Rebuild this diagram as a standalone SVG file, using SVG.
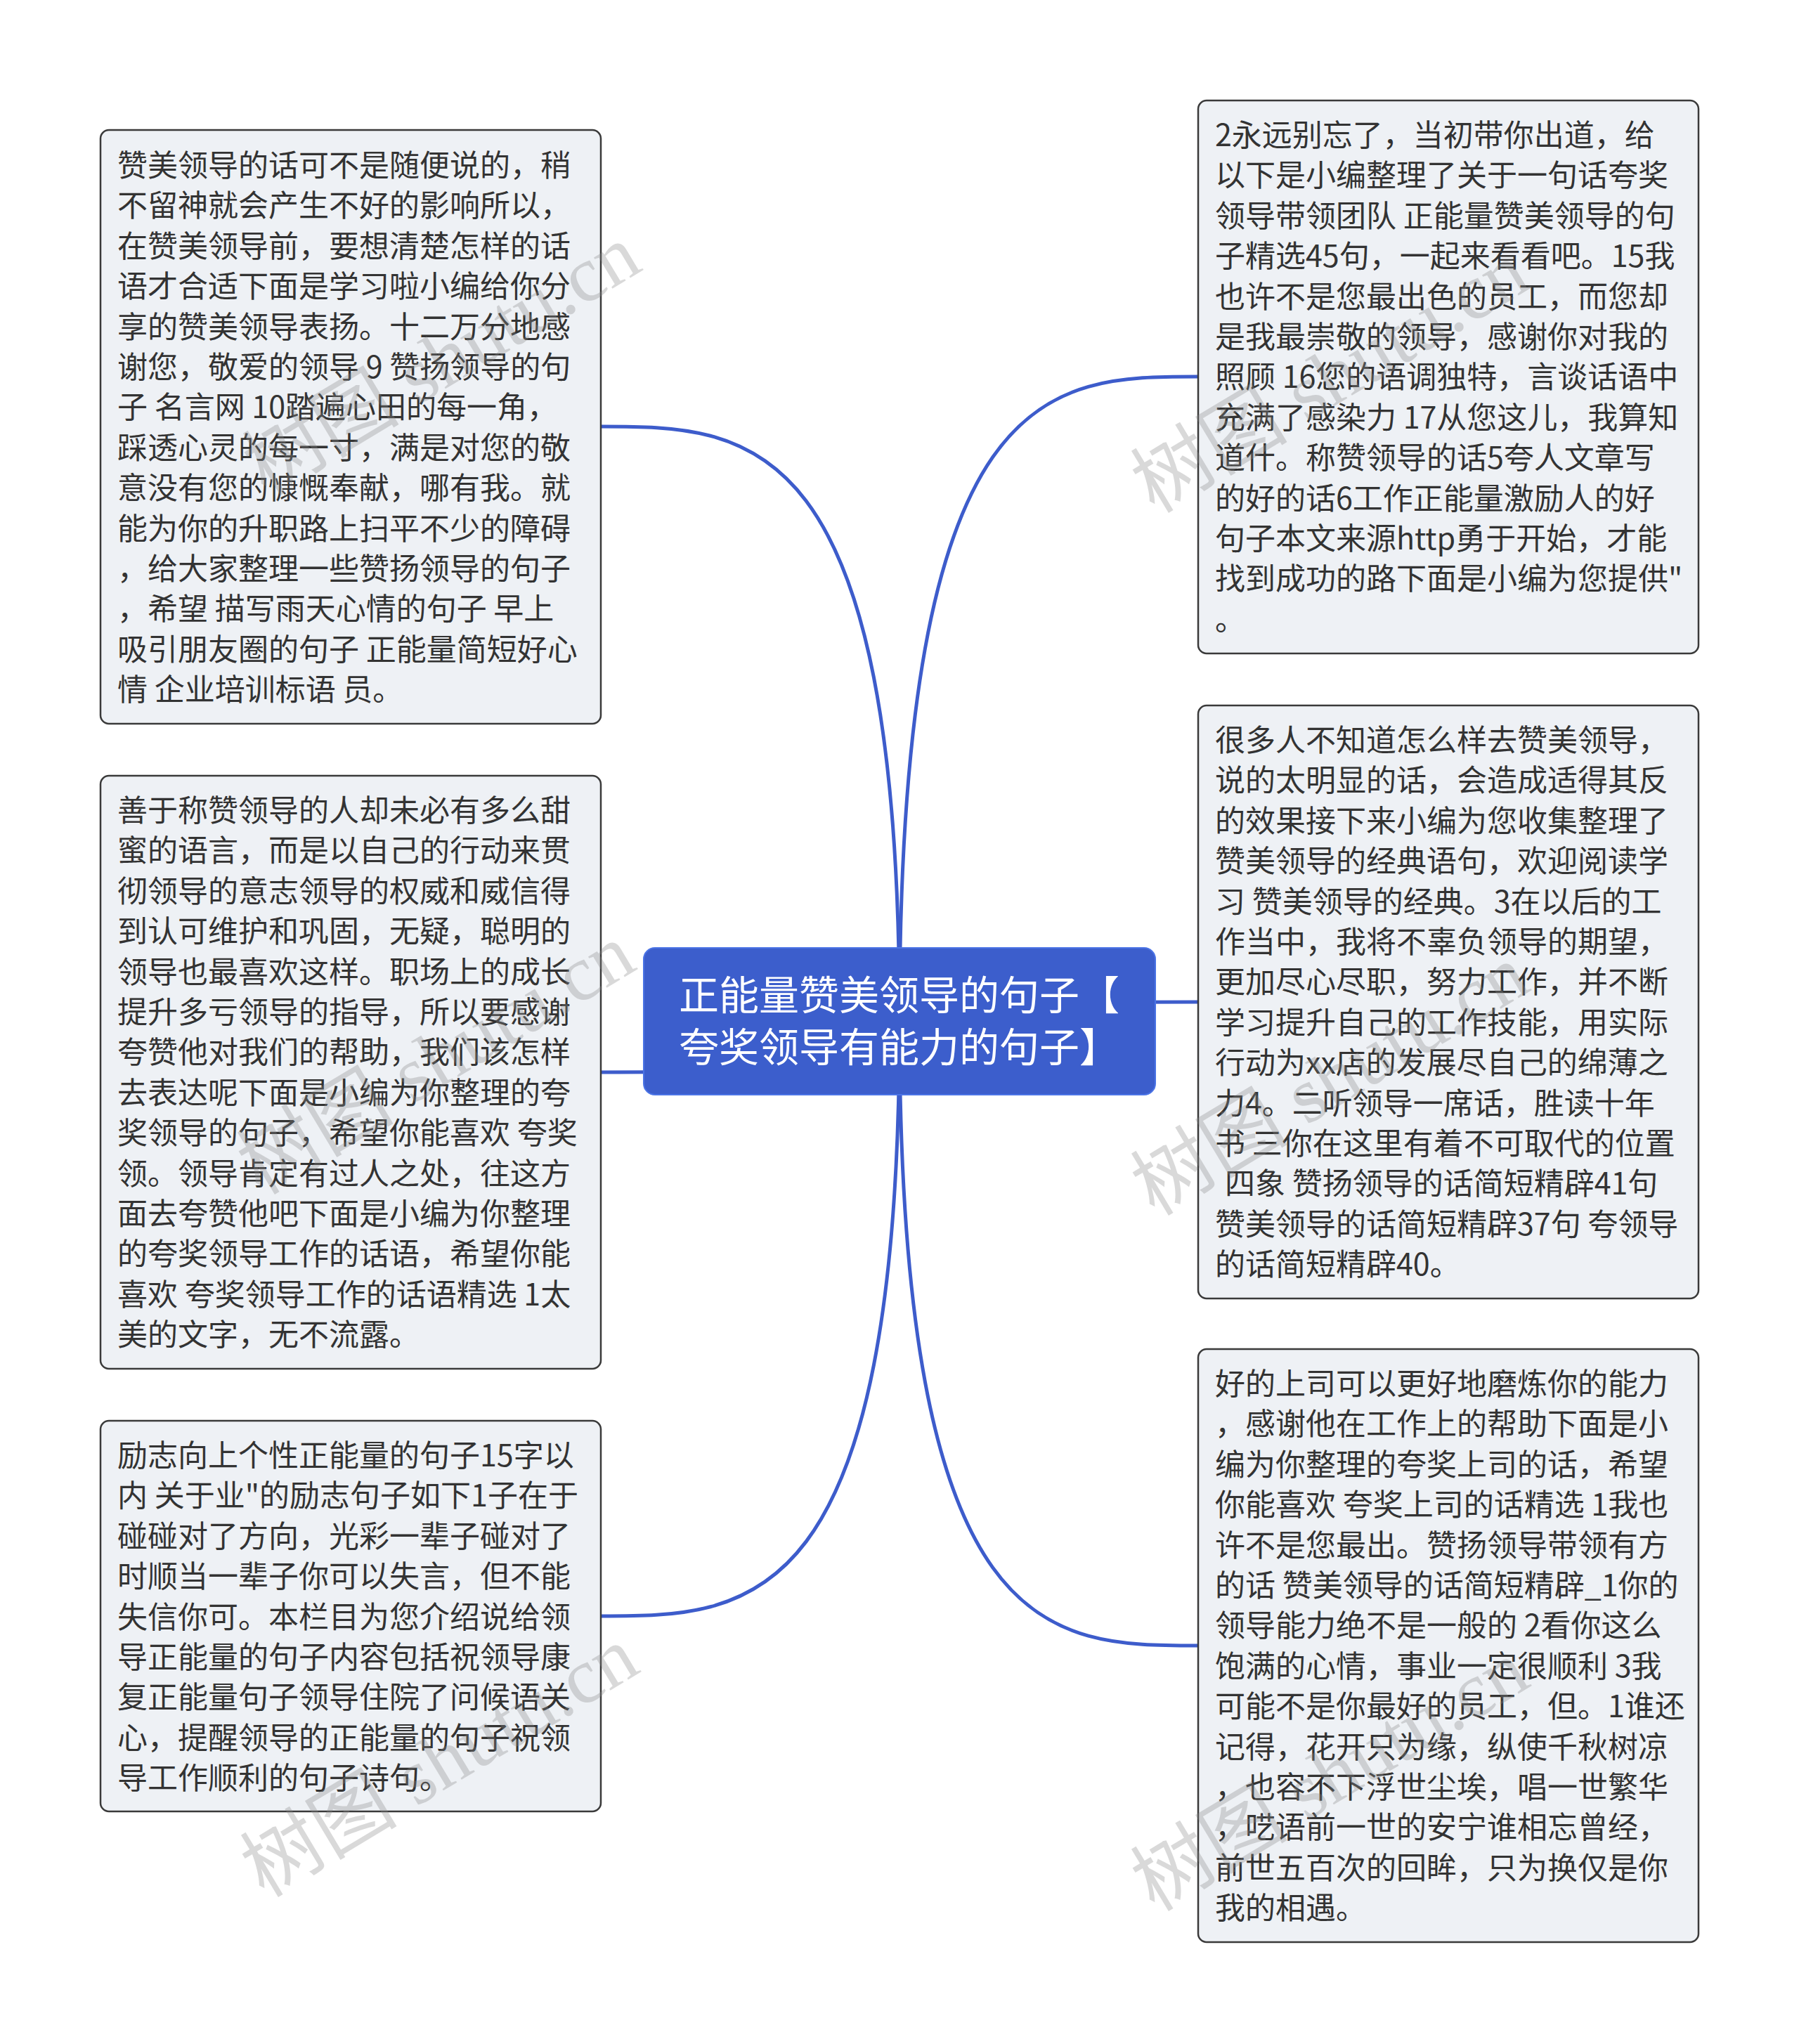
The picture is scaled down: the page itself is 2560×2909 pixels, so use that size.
<svg xmlns="http://www.w3.org/2000/svg" width="2560" height="2909" viewBox="0 0 2560 2909">
<style>
.bg{fill:#ffffff}
.box{fill:#eef1f5;stroke:#3a3a3a;stroke-width:2.5}
.root{fill:#3c5ecc;stroke:#4b74e6;stroke-width:2}
.t{font-family:"Noto Sans CJK SC","Noto Sans",sans-serif;font-size:43px;fill:#333333}
.rt{font-family:"Noto Sans CJK SC","Noto Sans",sans-serif;font-size:57px;fill:#ffffff}
.line{fill:none;stroke:#3d5ccb;stroke-width:5}
.wm{font-family:"Liberation Serif","Noto Sans CJK SC",serif;font-size:112px;fill:#8a8a8a;fill-opacity:0.32}
</style>
<rect class="bg" x="0" y="0" width="2560" height="2909"/>
<g id="connectors">
<path class="line" d="M1280 1453 C1280 607 1067 607 855 607"/>
<path class="line" d="M1280 1453 C1280 1526 1067 1526 855 1526"/>
<path class="line" d="M1280 1453 C1280 2300 1067 2300 855 2300"/>
<path class="line" d="M1280 1453 C1280 536 1492 536 1705 536"/>
<path class="line" d="M1280 1453 C1280 1426 1492 1426 1705 1426"/>
<path class="line" d="M1280 1453 C1280 2342 1492 2342 1705 2342"/>
</g>
<g id="root">
<rect class="root" x="916" y="1349" width="728" height="209" rx="16"/>
<text class="rt"><tspan x="966" y="1437">正能量赞美领导的句子【</tspan><tspan x="966" y="1511">夸奖领导有能力的句子】</tspan></text>
</g>
<g id="node-l1">
<rect class="box" x="143" y="185" width="712" height="845" rx="12"/>
<text class="t">
<tspan x="167" y="251">赞美领导的话可不是随便说的，稍</tspan>
<tspan x="167" y="308.4">不留神就会产生不好的影响所以，</tspan>
<tspan x="167" y="365.8">在赞美领导前，要想清楚怎样的话</tspan>
<tspan x="167" y="423.2">语才合适下面是学习啦小编给你分</tspan>
<tspan x="167" y="480.6">享的赞美领导表扬。十二万分地感</tspan>
<tspan x="167" y="538">谢您，敬爱的领导 9 赞扬领导的句</tspan>
<tspan x="167" y="595.4">子 名言网 10踏遍心田的每一角，</tspan>
<tspan x="167" y="652.8">踩透心灵的每一寸，满是对您的敬</tspan>
<tspan x="167" y="710.2">意没有您的慷慨奉献，哪有我。就</tspan>
<tspan x="167" y="767.6">能为你的升职路上扫平不少的障碍</tspan>
<tspan x="167" y="825">，给大家整理一些赞扬领导的句子</tspan>
<tspan x="167" y="882.4">，希望 描写雨天心情的句子 早上</tspan>
<tspan x="167" y="939.8">吸引朋友圈的句子 正能量简短好心</tspan>
<tspan x="167" y="997.2">情 企业培训标语 员。</tspan>
</text>
</g>
<g id="node-l2">
<rect class="box" x="143" y="1104" width="712" height="844" rx="12"/>
<text class="t">
<tspan x="167" y="1169">善于称赞领导的人却未必有多么甜</tspan>
<tspan x="167" y="1226.4">蜜的语言，而是以自己的行动来贯</tspan>
<tspan x="167" y="1283.8">彻领导的意志领导的权威和威信得</tspan>
<tspan x="167" y="1341.2">到认可维护和巩固，无疑，聪明的</tspan>
<tspan x="167" y="1398.6">领导也最喜欢这样。职场上的成长</tspan>
<tspan x="167" y="1456">提升多亏领导的指导，所以要感谢</tspan>
<tspan x="167" y="1513.4">夸赞他对我们的帮助，我们该怎样</tspan>
<tspan x="167" y="1570.8">去表达呢下面是小编为你整理的夸</tspan>
<tspan x="167" y="1628.2">奖领导的句子，希望你能喜欢 夸奖</tspan>
<tspan x="167" y="1685.6">领。领导肯定有过人之处，往这方</tspan>
<tspan x="167" y="1743">面去夸赞他吧下面是小编为你整理</tspan>
<tspan x="167" y="1800.4">的夸奖领导工作的话语，希望你能</tspan>
<tspan x="167" y="1857.8">喜欢 夸奖领导工作的话语精选 1太</tspan>
<tspan x="167" y="1915.2">美的文字，无不流露。</tspan>
</text>
</g>
<g id="node-l3">
<rect class="box" x="143" y="2022" width="712" height="556" rx="12"/>
<text class="t">
<tspan x="167" y="2087">励志向上个性正能量的句子15字以</tspan>
<tspan x="167" y="2144.4">内 关于业"的励志句子如下1子在于</tspan>
<tspan x="167" y="2201.8">碰碰对了方向，光彩一辈子碰对了</tspan>
<tspan x="167" y="2259.2">时顺当一辈子你可以失言，但不能</tspan>
<tspan x="167" y="2316.6">失信你可。本栏目为您介绍说给领</tspan>
<tspan x="167" y="2374">导正能量的句子内容包括祝领导康</tspan>
<tspan x="167" y="2431.4">复正能量句子领导住院了问候语关</tspan>
<tspan x="167" y="2488.8">心，提醒领导的正能量的句子祝领</tspan>
<tspan x="167" y="2546.2">导工作顺利的句子诗句。</tspan>
</text>
</g>
<g id="node-r1">
<rect class="box" x="1705" y="143" width="712" height="787" rx="12"/>
<text class="t">
<tspan x="1729" y="208">2永远别忘了，当初带你出道，给</tspan>
<tspan x="1729" y="265.4">以下是小编整理了关于一句话夸奖</tspan>
<tspan x="1729" y="322.8">领导带领团队 正能量赞美领导的句</tspan>
<tspan x="1729" y="380.2">子精选45句，一起来看看吧。15我</tspan>
<tspan x="1729" y="437.6">也许不是您最出色的员工，而您却</tspan>
<tspan x="1729" y="495">是我最崇敬的领导，感谢你对我的</tspan>
<tspan x="1729" y="552.4">照顾 16您的语调独特，言谈话语中</tspan>
<tspan x="1729" y="609.8">充满了感染力 17从您这儿，我算知</tspan>
<tspan x="1729" y="667.2">道什。称赞领导的话5夸人文章写</tspan>
<tspan x="1729" y="724.6">的好的话6工作正能量激励人的好</tspan>
<tspan x="1729" y="782">句子本文来源http勇于开始，才能</tspan>
<tspan x="1729" y="839.4">找到成功的路下面是小编为您提供"</tspan>
<tspan x="1729" y="896.8">。</tspan>
</text>
</g>
<g id="node-r2">
<rect class="box" x="1705" y="1004" width="712" height="844" rx="12"/>
<text class="t">
<tspan x="1729" y="1069">很多人不知道怎么样去赞美领导，</tspan>
<tspan x="1729" y="1126.4">说的太明显的话，会造成适得其反</tspan>
<tspan x="1729" y="1183.8">的效果接下来小编为您收集整理了</tspan>
<tspan x="1729" y="1241.2">赞美领导的经典语句，欢迎阅读学</tspan>
<tspan x="1729" y="1298.6">习 赞美领导的经典。3在以后的工</tspan>
<tspan x="1729" y="1356">作当中，我将不辜负领导的期望，</tspan>
<tspan x="1729" y="1413.4">更加尽心尽职，努力工作，并不断</tspan>
<tspan x="1729" y="1470.8">学习提升自己的工作技能，用实际</tspan>
<tspan x="1729" y="1528.2">行动为xx店的发展尽自己的绵薄之</tspan>
<tspan x="1729" y="1585.6">力4。二听领导一席话，胜读十年</tspan>
<tspan x="1729" y="1643">书 三你在这里有着不可取代的位置</tspan>
<tspan x="1743" y="1700.4">四象 赞扬领导的话简短精辟41句</tspan>
<tspan x="1729" y="1757.8">赞美领导的话简短精辟37句 夸领导</tspan>
<tspan x="1729" y="1815.2">的话简短精辟40。</tspan>
</text>
</g>
<g id="node-r3">
<rect class="box" x="1705" y="1920" width="712" height="844" rx="12"/>
<text class="t">
<tspan x="1729" y="1985">好的上司可以更好地磨炼你的能力</tspan>
<tspan x="1729" y="2042.4">，感谢他在工作上的帮助下面是小</tspan>
<tspan x="1729" y="2099.8">编为你整理的夸奖上司的话，希望</tspan>
<tspan x="1729" y="2157.2">你能喜欢 夸奖上司的话精选 1我也</tspan>
<tspan x="1729" y="2214.6">许不是您最出。赞扬领导带领有方</tspan>
<tspan x="1729" y="2272">的话 赞美领导的话简短精辟_1你的</tspan>
<tspan x="1729" y="2329.4">领导能力绝不是一般的 2看你这么</tspan>
<tspan x="1729" y="2386.8">饱满的心情，事业一定很顺利 3我</tspan>
<tspan x="1729" y="2444.2">可能不是你最好的员工，但。1谁还</tspan>
<tspan x="1729" y="2501.6">记得，花开只为缘，纵使千秋树凉</tspan>
<tspan x="1729" y="2559">，也容不下浮世尘埃，唱一世繁华</tspan>
<tspan x="1729" y="2616.4">，呓语前一世的安宁谁相忘曾经，</tspan>
<tspan x="1729" y="2673.8">前世五百次的回眸，只为换仅是你</tspan>
<tspan x="1729" y="2731.2">我的相遇。</tspan>
</text>
</g>
<g id="watermarks">
<text class="wm" text-anchor="middle" transform="translate(648 545) rotate(-31)">树图 shutu.cn</text>
<text class="wm" text-anchor="middle" transform="translate(640 1540) rotate(-31)">树图 shutu.cn</text>
<text class="wm" text-anchor="middle" transform="translate(645 2540) rotate(-31)">树图 shutu.cn</text>
<text class="wm" text-anchor="middle" transform="translate(1912 570) rotate(-31)">树图 shutu.cn</text>
<text class="wm" text-anchor="middle" transform="translate(1912 1570) rotate(-31)">树图 shutu.cn</text>
<text class="wm" text-anchor="middle" transform="translate(1912 2560) rotate(-31)">树图 shutu.cn</text>
</g>
</svg>
